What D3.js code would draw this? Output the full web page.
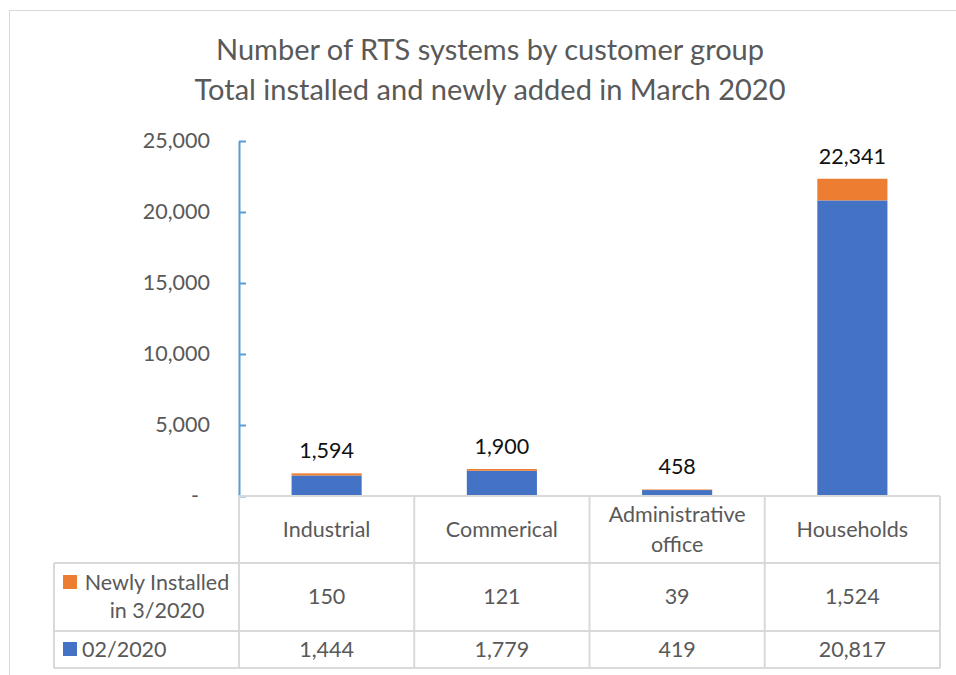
<!DOCTYPE html>
<meta charset="utf-8">
<script src="https://d3js.org/d3.v7.min.js"></script>
<style>
  body { margin: 0; background: #fff; font-family: 'Lato', sans-serif; }
  text { font-family: 'Lato', sans-serif; }
</style>
<div id="chart"></div>
<script>

// values
var categories = ["Industrial", "Commerical", "Administrative office", "Households"];
var seriesNames = ["Newly Installed in 3/2020", "02/2020"];
var feb2020 = [1444, 1779, 419, 20817];
var newMar2020 = [150, 121, 39, 1524];
var totals = [1594, 1900, 458, 22341];
var yTicks = [0, 5000, 10000, 15000, 20000, 25000];
var titleLines = ["Number of RTS systems by customer group", "Total installed and newly added in March 2020"];

var W = 956, H = 675;
var plotLeft = 239, plotRight = 940, plotTop = 141, base = 496;
var rowTops = [496, 563, 631, 668];
var legendLeft = 54;
var grey = "#595959", line = "#d9d9d9";
var blue = "#4472c4", orange = "#ed7d31";
var fs = 21.5;

var svg = d3.select("#chart").append("svg")
  .attr("width", W).attr("height", H);

// chart frame
svg.append("rect")
  .attr("x", 9.5).attr("y", 10.5)
  .attr("width", 1000).attr("height", 1000)
  .attr("fill", "none").attr("stroke", line);

// title
svg.append("g").selectAll("text")
  .data(titleLines)
  .enter().append("text")
    .attr("x", 490)
    .attr("y", function(d, i) { return 60 + i * 40; })
    .attr("text-anchor", "middle")
    .attr("fill", grey)
    .style("font-size", "29px")
    .text(function(d) { return d; });

var x = d3.scaleBand().domain(categories).range([plotLeft, plotRight]).padding(0);
var y = d3.scaleLinear().domain([0, 25000]).range([base, plotTop]);
var barW = x.bandwidth() * 0.4;

// stacked bars
var rows = categories.map(function(c, i) {
  return { cat: c, feb: feb2020[i], mar: newMar2020[i], total: totals[i] };
});
var stack = d3.stack().keys(["feb", "mar"])(rows);
var colors = { feb: blue, mar: orange };

svg.append("g").selectAll("g")
  .data(stack)
  .enter().append("g")
    .attr("fill", function(d) { return colors[d.key]; })
  .selectAll("rect")
  .data(function(d) { return d; })
  .enter().append("rect")
    .attr("x", function(d) { return x(d.data.cat) + (x.bandwidth() - barW) / 2; })
    .attr("width", barW)
    .attr("y", function(d) { return y(d[1]); })
    .attr("height", function(d) { return y(d[0]) - y(d[1]); });

// total labels
svg.append("g").selectAll("text")
  .data(rows)
  .enter().append("text")
    .attr("x", function(d) { return x(d.cat) + x.bandwidth() / 2; })
    .attr("y", function(d) { return y(d.total) - 15; })
    .attr("text-anchor", "middle")
    .attr("fill", "#111")
    .style("font-size", fs + "px")
    .text(function(d) { return d3.format(",")(d.total); });

// y axis
var yAxis = svg.append("g")
  .attr("transform", "translate(" + plotLeft + ",0)")
  .call(d3.axisLeft(y)
    .tickValues(yTicks)
    .tickSizeInner(-7)
    .tickSizeOuter(0)
    .tickPadding(29)
    .tickFormat(function(d) { return d === 0 ? "-" : d3.format(",")(d); }));
yAxis.select(".domain").attr("stroke", "#5b9bd5").attr("stroke-width", 2);
yAxis.selectAll(".tick line").attr("stroke", "#5b9bd5").attr("stroke-width", 2);
yAxis.selectAll(".tick text")
  .attr("fill", grey)
  .attr("dx", function(d) { return d === 0 ? -11 : 0; })
  .style("font-size", fs + "px")
  .style("font-family", "Lato, sans-serif");

// data table
var table = svg.append("g").attr("stroke", line).attr("stroke-width", 2).attr("fill", "none");
rowTops.forEach(function(r, i) {
  table.append("line")
    .attr("x1", i === 0 ? plotLeft : legendLeft).attr("x2", plotRight)
    .attr("y1", r).attr("y2", r);
});
categories.concat([null]).forEach(function(c) {
  var xx = c ? x(c) : plotRight;
  table.append("line").attr("x1", xx).attr("x2", xx).attr("y1", rowTops[0]).attr("y2", rowTops[3]);
});
table.append("line").attr("x1", legendLeft).attr("x2", legendLeft).attr("y1", rowTops[1]).attr("y2", rowTops[3]);

function wrapLines(txt, maxW, size) {
  var probe = svg.append("text").style("font-size", size + "px");
  var words = txt.split(" "), lines = [], cur = "";
  words.forEach(function(w) {
    var t = cur ? cur + " " + w : w;
    probe.text(t);
    if (probe.node().getComputedTextLength() > maxW && cur) { lines.push(cur); cur = w; }
    else cur = t;
  });
  lines.push(cur);
  probe.remove();
  return lines;
}

// category labels
categories.forEach(function(c) {
  var lines = wrapLines(c, x.bandwidth() - 20, fs);
  var cy = (rowTops[0] + rowTops[1]) / 2;
  svg.append("text")
    .attr("x", x(c) + x.bandwidth() / 2)
    .attr("y", cy - (lines.length - 1) * 15 + 7)
    .attr("text-anchor", "middle")
    .attr("fill", grey)
    .style("font-size", fs + "px")
    .selectAll("tspan")
    .data(lines)
    .enter().append("tspan")
      .attr("x", x(c) + x.bandwidth() / 2)
      .attr("dy", function(d, i) { return i ? 30 : 0; })
      .text(function(d) { return d; });
});

// value rows with legend keys
var seriesVals = [newMar2020, feb2020];
var seriesCols = [orange, blue];
seriesVals.forEach(function(vals, s) {
  var cy = (rowTops[s + 1] + rowTops[s + 2]) / 2;
  svg.append("g").selectAll("text")
    .data(vals)
    .enter().append("text")
      .attr("x", function(d, i) { return x(categories[i]) + x.bandwidth() / 2; })
      .attr("y", cy + 7)
      .attr("text-anchor", "middle")
      .attr("fill", grey)
      .style("font-size", fs + "px")
      .text(function(d) { return d3.format(",")(d); });

  var lines = wrapLines(seriesNames[s], 155, fs);
  var textX = s === 0 ? 157 : 82;
  var anchor = s === 0 ? "middle" : "start";
  svg.append("rect")
    .attr("x", 63).attr("y", (s === 0 ? 575 : 642))
    .attr("width", 14).attr("height", 14)
    .attr("fill", seriesCols[s]);
  svg.append("text")
    .attr("y", cy - (lines.length - 1) * 14 + 7)
    .attr("fill", grey)
    .attr("text-anchor", anchor)
    .style("font-size", fs + "px")
    .selectAll("tspan")
    .data(lines)
    .enter().append("tspan")
      .attr("x", textX)
      .attr("dy", function(d, i) { return i ? 28 : 0; })
      .text(function(d) { return d; });
});

</script>
